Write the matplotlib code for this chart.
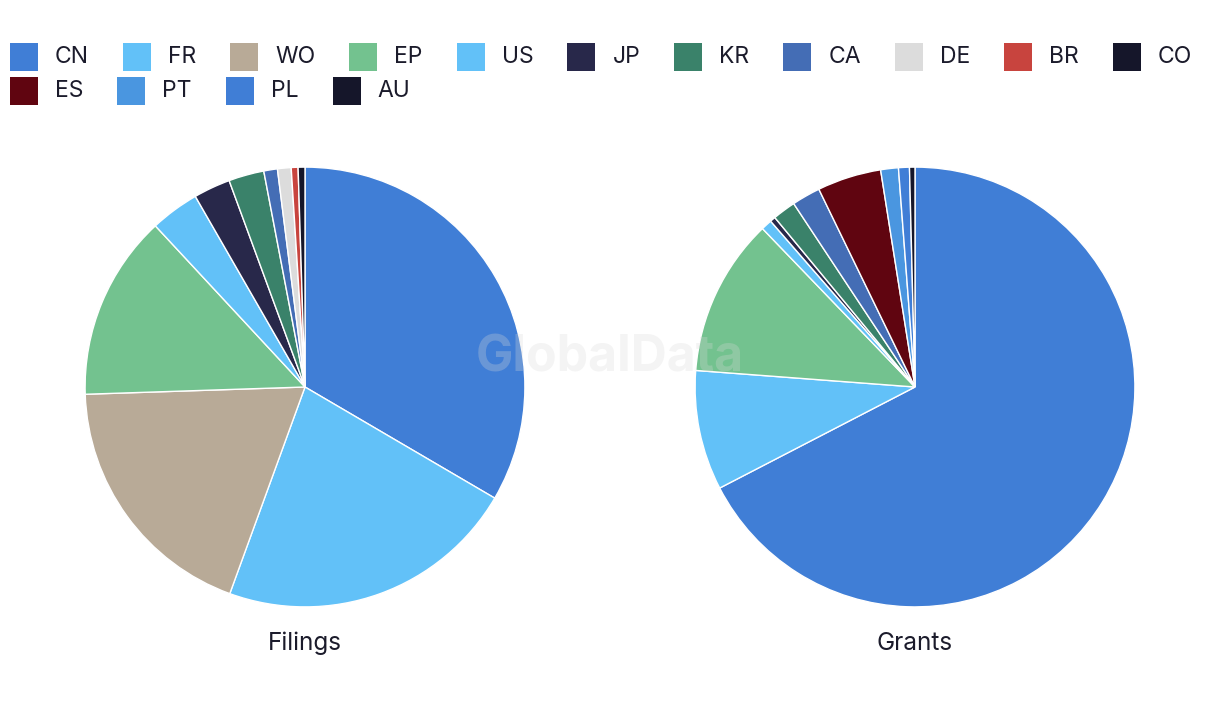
import matplotlib.pyplot as plt
from matplotlib.patches import Rectangle

plt.rcParams["font.family"] = ["Inter", "DejaVu Sans"]

# legend order (same order as the wedges go round the pies)
countries = ["CN", "FR", "WO", "EP", "US", "JP", "KR", "CA", "DE", "BR", "CO",
             "ES", "PT", "PL", "AU"]
colors = ["#407ed6", "#62c1f8", "#b8aa97", "#73c28f", "#62c1f8", "#28284a",
          "#3a826a", "#446db5", "#dcdcdc", "#c8443e", "#15162a",
          "#600510", "#4a96e0", "#407ed6", "#15162a"]

# share in %, 0 = not present in that pie
filings = [33.4, 22.1, 18.9, 13.6, 3.6, 2.7, 2.6, 1.0, 1.0, 0.5, 0.5,
           0, 0, 0, 0]
grants = [67.4, 8.8, 0, 11.6, 0.8, 0.4, 1.7, 2.1, 0, 0, 0,
          4.7, 1.3, 0.8, 0.4]

W, H = 1220, 720
fig = plt.figure(figsize=(W / 100, H / 100), dpi=100)

R = 221
centers = [(305, 387), (915, 387)]
titles = ["Filings", "Grants"]

for (cx, cy), title, vals in zip(centers, titles, [filings, grants]):
    ax = fig.add_axes([(cx - R) / W, (H - cy - R) / H, 2 * R / W, 2 * R / H])
    v = [x for x in vals if x > 0]
    c = [col for x, col in zip(vals, colors) if x > 0]
    ax.pie(v, colors=c, startangle=90, counterclock=False, radius=1,
           wedgeprops=dict(edgecolor="white", linewidth=1))
    ax.set_xlim(-1.005, 1.005)
    ax.set_ylim(-1.005, 1.005)
    ax.set_aspect("equal")
    ax.axis("off")
    fig.text(cx / W, (H - 643) / H, title, ha="center", va="center",
             fontsize=17.5, color="#1b1b2b")

# watermark
fig.text(610 / W, (H - 358) / H, "GlobalData", ha="center", va="center",
         fontsize=36, fontweight="bold", color="#d8d8d8", alpha=0.28, zorder=10)

# legend, flow layout
renderer = fig.canvas.get_renderer()
sq = 28
x, row_y = 10, 57
for name, col in zip(countries, colors):
    t = fig.text(0, 0, name, fontsize=16.5, color="#1b1b2b", va="center")
    tw = t.get_window_extent(renderer).width
    if x + sq + 17 + tw > W - 10:
        x = 10
        row_y += 34
    fig.add_artist(Rectangle((x / W, (H - row_y - sq / 2) / H), sq / W, sq / H,
                             transform=fig.transFigure, facecolor=col,
                             edgecolor="none"))
    t.set_position(((x + sq + 17) / W, (H - row_y) / H))
    x += sq + 17 + tw + 34

fig.savefig("out.png", dpi=100)
